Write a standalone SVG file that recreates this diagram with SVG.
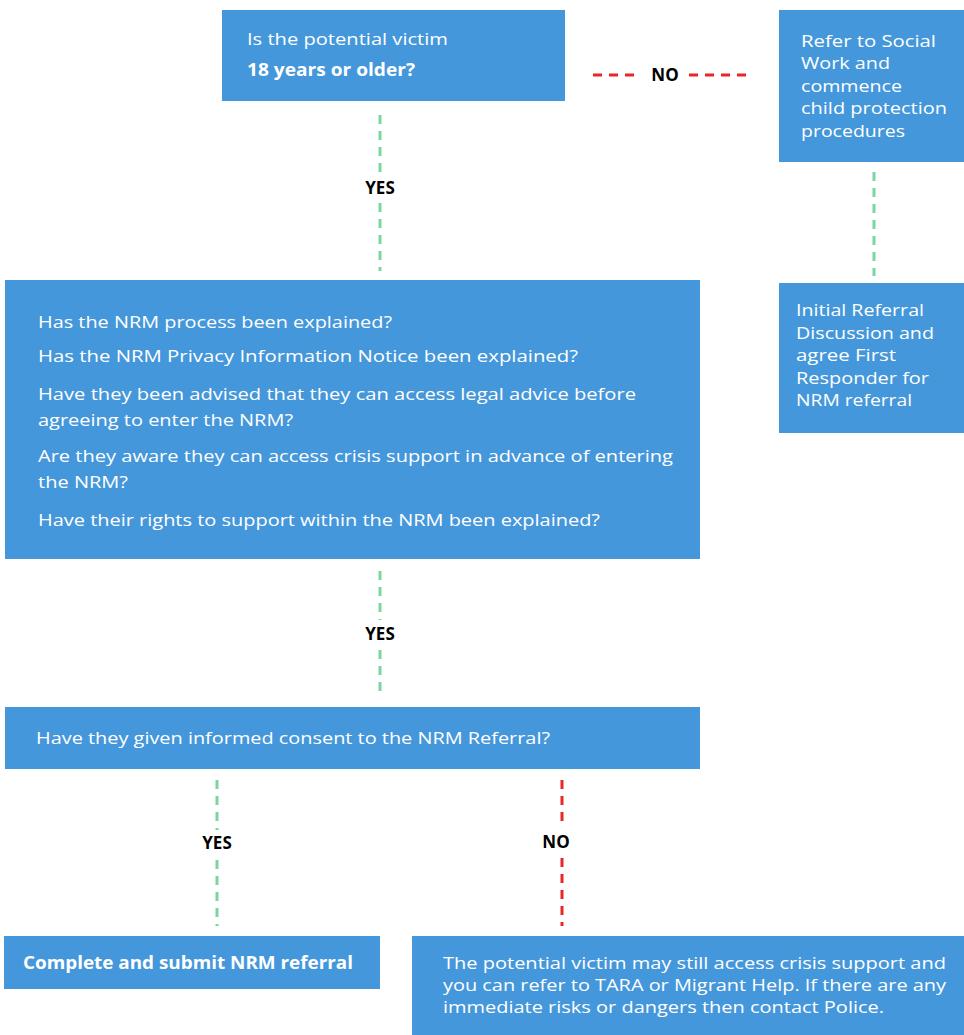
<svg xmlns="http://www.w3.org/2000/svg" width="964" height="1035" viewBox="0 0 964 1035">
<style>
.box{fill:#4597DB}
.t{font-family:"Open Sans","Liberation Sans",sans-serif;font-size:17px;fill:#ffffff}
.tb{font-family:"Open Sans","Liberation Sans",sans-serif;font-size:17px;font-weight:bold;fill:#ffffff}
.lbl{font-family:"Open Sans","Liberation Sans",sans-serif;font-size:17px;font-weight:bold;fill:#000000;text-anchor:middle}
.g{stroke:#7DD6A0;stroke-width:3;stroke-dasharray:9 7;fill:none}
.r{stroke:#E8262C;stroke-width:3;stroke-dasharray:9 7;fill:none}
</style>
<rect width="964" height="1035" fill="#ffffff"/>
<g id="connectors">
<line class="r" x1="593" y1="75" x2="641" y2="75"/>
<line class="r" x1="689" y1="75" x2="753" y2="75"/>
<text class="lbl" x="665" y="81">NO</text>
<line class="g" x1="380" y1="115" x2="380" y2="174"/>
<line class="g" x1="380" y1="203" x2="380" y2="271"/>
<text class="lbl" x="380" y="194">YES</text>
<line class="g" x1="874" y1="172" x2="874" y2="276"/>
<line class="g" x1="380" y1="571" x2="380" y2="620"/>
<line class="g" x1="380" y1="650" x2="380" y2="697"/>
<text class="lbl" x="380" y="640">YES</text>
<line class="g" x1="217" y1="780" x2="217" y2="830"/>
<line class="g" x1="217" y1="860" x2="217" y2="926"/>
<text class="lbl" x="217" y="849">YES</text>
<line class="r" x1="562" y1="780" x2="562" y2="828"/>
<line class="r" x1="562" y1="858" x2="562" y2="926"/>
<text class="lbl" x="556" y="848">NO</text>
</g>
<g id="age">
<rect class="box" x="222" y="10" width="343" height="91"/>
<text class="t" x="247" y="45" textLength="201" lengthAdjust="spacingAndGlyphs">Is the potential victim</text>
<text class="tb" x="247" y="76" textLength="168" lengthAdjust="spacingAndGlyphs">18 years or older?</text>
</g>
<g id="social">
<rect class="box" x="779" y="10" width="185" height="152"/>
<text class="t" x="801" y="47" textLength="135" lengthAdjust="spacingAndGlyphs">Refer to Social</text>
<text class="t" x="801" y="69" textLength="89" lengthAdjust="spacingAndGlyphs">Work and</text>
<text class="t" x="801" y="92" textLength="101" lengthAdjust="spacingAndGlyphs">commence</text>
<text class="t" x="801" y="114" textLength="146" lengthAdjust="spacingAndGlyphs">child protection</text>
<text class="t" x="801" y="137" textLength="104" lengthAdjust="spacingAndGlyphs">procedures</text>
</g>
<g id="initial">
<rect class="box" x="779" y="283" width="185" height="150"/>
<text class="t" x="796" y="316" textLength="128" lengthAdjust="spacingAndGlyphs">Initial Referral</text>
<text class="t" x="796" y="339" textLength="138" lengthAdjust="spacingAndGlyphs">Discussion and</text>
<text class="t" x="796" y="361" textLength="100" lengthAdjust="spacingAndGlyphs">agree First</text>
<text class="t" x="796" y="384" textLength="133" lengthAdjust="spacingAndGlyphs">Responder for</text>
<text class="t" x="796" y="406" textLength="116" lengthAdjust="spacingAndGlyphs">NRM referral</text>
</g>
<g id="checks">
<rect class="box" x="5" y="280" width="695" height="279"/>
<text class="t" x="38" y="328" textLength="354" lengthAdjust="spacingAndGlyphs">Has the NRM process been explained?</text>
<text class="t" x="38" y="362" textLength="540" lengthAdjust="spacingAndGlyphs">Has the NRM Privacy Information Notice been explained?</text>
<text class="t" x="38" y="400" textLength="598" lengthAdjust="spacingAndGlyphs">Have they been advised that they can access legal advice before</text>
<text class="t" x="38" y="426" textLength="255" lengthAdjust="spacingAndGlyphs">agreeing to enter the NRM?</text>
<text class="t" x="38" y="462" textLength="635" lengthAdjust="spacingAndGlyphs">Are they aware they can access crisis support in advance of entering</text>
<text class="t" x="38" y="488" textLength="90" lengthAdjust="spacingAndGlyphs">the NRM?</text>
<text class="t" x="38" y="526" textLength="562" lengthAdjust="spacingAndGlyphs">Have their rights to support within the NRM been explained?</text>
</g>
<g id="consent">
<rect class="box" x="5" y="707" width="695" height="62"/>
<text class="t" x="36" y="744" textLength="514" lengthAdjust="spacingAndGlyphs">Have they given informed consent to the NRM Referral?</text>
</g>
<g id="complete">
<rect class="box" x="4" y="936" width="376" height="53"/>
<text class="tb" x="23" y="969" textLength="330" lengthAdjust="spacingAndGlyphs">Complete and submit NRM referral</text>
</g>
<g id="support">
<rect class="box" x="412" y="936" width="552" height="99"/>
<text class="t" x="443" y="969" textLength="503" lengthAdjust="spacingAndGlyphs">The potential victim may still access crisis support and</text>
<text class="t" x="443" y="991" textLength="503" lengthAdjust="spacingAndGlyphs">you can refer to TARA or Migrant Help. If there are any</text>
<text class="t" x="443" y="1013" textLength="441" lengthAdjust="spacingAndGlyphs">immediate risks or dangers then contact Police.</text>
</g>
</svg>
